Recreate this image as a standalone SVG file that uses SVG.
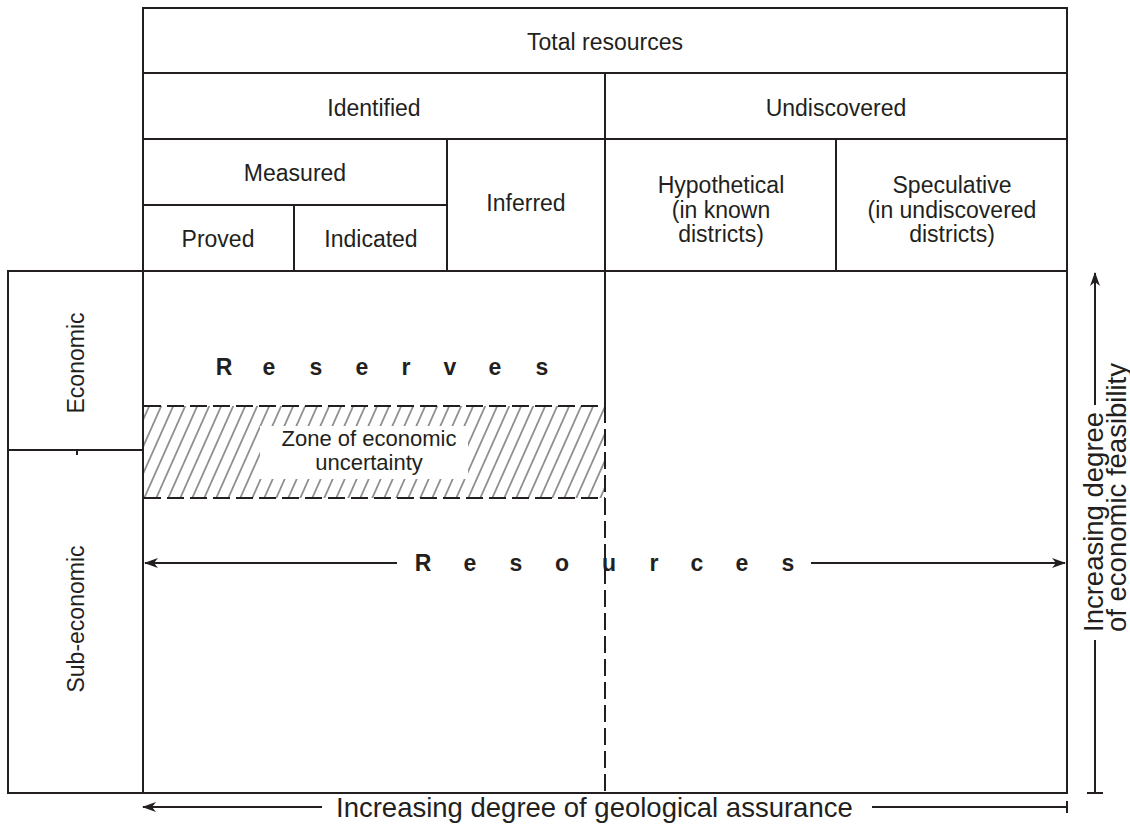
<svg xmlns="http://www.w3.org/2000/svg" width="1130" height="828" viewBox="0 0 1130 828">
  <style>
    .ln { stroke: #231f20; stroke-width: 2; fill: none; }
    .dash { stroke: #231f20; stroke-width: 2; fill: none; stroke-dasharray: 17 6; }
    .t { font-family: "Liberation Sans", Arial, sans-serif; font-size: 23px; fill: #231f20; text-anchor: middle; }
    .z { font-family: "Liberation Sans", Arial, sans-serif; font-size: 22px; fill: #231f20; text-anchor: middle; }
    .b { font-family: "Liberation Sans", Arial, sans-serif; font-size: 23px; font-weight: bold; fill: #231f20; text-anchor: middle; }
    .ax { font-family: "Liberation Sans", Arial, sans-serif; font-size: 27.5px; fill: #231f20; }
  </style>
  <defs>
    <pattern id="hatch" patternUnits="userSpaceOnUse" width="12" height="12" patternTransform="skewX(-24)">
      <line x1="6" y1="0" x2="6" y2="12" stroke="#555" stroke-width="1.3"/>
    </pattern>
    <marker id="arr" viewBox="0 0 14 10" refX="13" refY="5" markerWidth="14" markerHeight="10" markerUnits="userSpaceOnUse" orient="auto-start-reverse">
      <path d="M0,0 L14,5 L0,10 L4,5 z" fill="#231f20"/>
    </marker>
  </defs>
  <rect width="1130" height="828" fill="#fff"/>

  <g id="total-resources">
    <rect x="143" y="8" width="924" height="65" class="ln"/>
    <text class="t" x="605" y="50">Total resources</text>
  </g>
  <g id="identified">
    <rect x="143" y="73" width="462" height="66" class="ln"/>
    <text class="t" x="374" y="116">Identified</text>
  </g>
  <g id="undiscovered">
    <rect x="605" y="73" width="462" height="66" class="ln"/>
    <text class="t" x="836" y="116">Undiscovered</text>
  </g>
  <g id="measured">
    <rect x="143" y="139" width="304" height="66" class="ln"/>
    <text class="t" x="295" y="181">Measured</text>
  </g>
  <g id="proved">
    <rect x="143" y="205" width="151" height="66" class="ln"/>
    <text class="t" x="218" y="247">Proved</text>
  </g>
  <g id="indicated">
    <rect x="294" y="205" width="153" height="66" class="ln"/>
    <text class="t" x="371" y="247">Indicated</text>
  </g>
  <g id="inferred">
    <rect x="447" y="139" width="158" height="132" class="ln"/>
    <text class="t" x="526" y="211">Inferred</text>
  </g>
  <g id="hypothetical">
    <rect x="605" y="139" width="231" height="132" class="ln"/>
    <text class="t" x="721" y="193">Hypothetical</text>
    <text class="t" x="721" y="217.5">(in known</text>
    <text class="t" x="721" y="242">districts)</text>
  </g>
  <g id="speculative">
    <rect x="836" y="139" width="231" height="132" class="ln"/>
    <text class="t" x="952" y="193">Speculative</text>
    <text class="t" x="952" y="217.5">(in undiscovered</text>
    <text class="t" x="952" y="242">districts)</text>
  </g>

  <g id="economic">
    <rect x="8" y="271" width="135" height="179" class="ln"/>
    <line x1="77" y1="450" x2="77" y2="455" class="ln" stroke-width="1.5"/>
    <text class="t" transform="translate(84,363) rotate(-90)">Economic</text>
  </g>
  <g id="sub-economic">
    <rect x="8" y="450" width="135" height="343" class="ln"/>
    <text class="t" transform="translate(84,619) rotate(-90)">Sub-economic</text>
  </g>

  <g id="resources-field">
    <rect x="143" y="271" width="924" height="522" class="ln"/>
    <line x1="605" y1="271" x2="605" y2="406" class="ln"/>
    <line x1="605" y1="498" x2="605" y2="793" class="dash"/>
  </g>

  <g id="reserves">
    <text class="b" x="224 269 316 362 406 450 495 542" y="375">Reserves</text>
  </g>

  <g id="zone-of-economic-uncertainty">
    <rect x="144" y="406" width="461" height="92" fill="url(#hatch)"/>
    <rect x="260" y="426" width="208" height="53" fill="#fff"/>
    <line x1="144" y1="406" x2="605" y2="406" class="dash"/>
    <line x1="144" y1="498" x2="605" y2="498" class="dash"/>
    <line x1="605" y1="406" x2="605" y2="498" class="dash"/>
    <text class="z" x="369" y="446">Zone of economic</text>
    <text class="z" x="369" y="470">uncertainty</text>
  </g>

  <g id="resources">
    <text class="b" x="423 470 516 562 609 654 697 742 788" y="571">Resources</text>
  </g>

  <g id="connectors">
    <line x1="397" y1="563" x2="145" y2="563" class="ln" marker-end="url(#arr)"/>
    <line x1="811" y1="563" x2="1065" y2="563" class="ln" marker-end="url(#arr)"/>
    <line x1="322" y1="807" x2="143" y2="807" class="ln" marker-end="url(#arr)"/>
    <line x1="872" y1="807" x2="1067" y2="807" class="ln"/>
    <line x1="1067" y1="801" x2="1067" y2="813" class="ln"/>
    <line x1="1095" y1="793" x2="1095" y2="640" class="ln"/>
    <line x1="1087" y1="793" x2="1103" y2="793" class="ln"/>
    <line x1="1095" y1="405" x2="1095" y2="273" class="ln" marker-end="url(#arr)"/>
  </g>

  <g id="axis-labels">
    <text class="ax" x="336" y="817">Increasing degree of geological assurance</text>
    <text class="ax" transform="translate(1103,632) rotate(-90)">Increasing degree</text>
    <text class="ax" transform="translate(1126,632) rotate(-90)">of economic feasibility</text>
  </g>
</svg>
